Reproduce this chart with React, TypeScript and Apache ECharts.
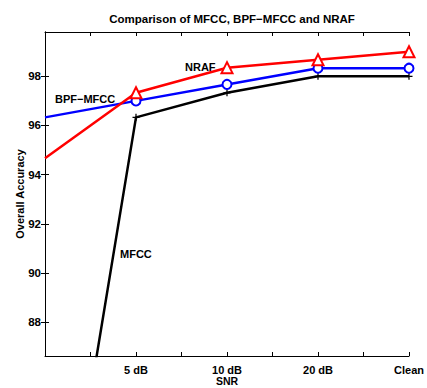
import React, { useEffect, useRef } from "react";
import * as echarts from "echarts";

const snrLabels = ["0 dB", "5 dB", "10 dB", "20 dB", "Clean"];
const mfcc = [73.9, 96.33, 97.33, 98.0, 98.0];
const bpfMfcc = [96.33, 97.0, 97.67, 98.33, 98.33];
const nraf = [94.67, 97.33, 98.35, 98.67, 99.0];
const yTicks = [88, 90, 92, 94, 96, 98];

const FONT = '"Liberation Sans", Arial, Helvetica, sans-serif';

// first point (0 dB) lies on the axis edge; it has no visible marker in the reference
const toPoints = (vals: number[]) =>
  vals.map((v, i) => (i === 0 ? { value: [i, v], symbol: "none" } : { value: [i, v] }));

const plusPath =
  "path://M-0.18,-1H0.18V-0.18H1V0.18H0.18V1H-0.18V0.18H-1V-0.18H-0.18Z";

export default function App() {
  const ref = useRef<HTMLDivElement>(null);
  useEffect(() => {
    if (!ref.current) return;
    const chart = echarts.init(ref.current, undefined, { renderer: "svg" });
    const labelFor = (v: number) => {
      if (Math.abs(v - Math.round(v)) > 1e-6) return "";
      const i = Math.round(v);
      return i >= 1 && i < snrLabels.length ? snrLabels[i] : "";
    };
    const xBase = {
      type: "value",
      min: 0,
      max: snrLabels.length - 1,
      interval: 0.5,
      axisLine: { lineStyle: { color: "#000", width: 1 } },
      axisTick: { inside: true, length: 4, lineStyle: { color: "#000" } },
      splitLine: { show: false },
    };
    const yBase = {
      type: "value",
      min: 86.63,
      max: 99.8,
      axisLine: { show: true, lineStyle: { color: "#000", width: 1 } },
      axisTick: {
        show: true,
        inside: true,
        length: 4,
        customValues: yTicks,
        lineStyle: { color: "#000" },
      },
      splitLine: { show: false },
    };
    const textStyle = {
      fontFamily: FONT,
      fontWeight: "bold",
      fontSize: 11,
      fill: "#000",
    };
    chart.setOption({
      animation: false,
      backgroundColor: "#fff",
      title: {
        text: "Comparison of MFCC, BPF\u2212MFCC and NRAF",
        left: 227,
        top: 8,
        textAlign: "center",
        textStyle: {
          fontFamily: FONT,
          fontWeight: "bold",
          fontSize: 11.5,
          color: "#000",
        },
      },
      grid: {
        left: 45,
        right: 18,
        top: 32,
        bottom: 32,
        containLabel: false,
        outerBoundsMode: "none",
      },
      xAxis: [
        {
          ...xBase,
          position: "bottom",
          name: "SNR",
          nameLocation: "middle",
          nameGap: 19,
          nameMoveOverlap: false,
          nameTextStyle: {
            fontFamily: FONT,
            fontWeight: "bold",
            fontSize: 10.5,
            color: "#000",
          },
          axisLabel: {
            formatter: labelFor,
            margin: 8,
            fontFamily: FONT,
            fontWeight: "bold",
            fontSize: 11,
            color: "#000",
            showMinLabel: true,
            showMaxLabel: true,
          },
        },
        { ...xBase, position: "top", axisLabel: { show: false } },
      ],
      yAxis: [
        {
          ...yBase,
          position: "left",
          name: "Overall Accuracy",
          nameLocation: "middle",
          nameGap: 20,
          nameMoveOverlap: false,
          nameTextStyle: {
            fontFamily: FONT,
            fontWeight: "bold",
            fontSize: 11,
            color: "#000",
          },
          axisLabel: {
            customValues: yTicks,
            margin: 4,
            fontFamily: FONT,
            fontWeight: "bold",
            fontSize: 11.5,
            color: "#000",
          },
        },
        { ...yBase, position: "right", axisLabel: { show: false } },
      ],
      series: [
        {
          name: "MFCC",
          type: "line",
          data: toPoints(mfcc),
          clip: true,
          symbol: plusPath,
          symbolSize: 7,
          showAllSymbol: true,
          lineStyle: { color: "#000", width: 2.5 },
          itemStyle: { color: "#000" },
        },
        {
          name: "BPF-MFCC",
          type: "line",
          data: toPoints(bpfMfcc),
          clip: true,
          symbol: "emptyCircle",
          symbolSize: 9,
          showAllSymbol: true,
          lineStyle: { color: "#0000ff", width: 2.5 },
          itemStyle: { color: "#0000ff", borderWidth: 2, borderColor: "#0000ff" },
        },
        {
          name: "NRAF",
          type: "line",
          data: toPoints(nraf),
          clip: true,
          symbol: "emptyTriangle",
          symbolSize: 11,
          showAllSymbol: true,
          lineStyle: { color: "#ff0000", width: 2.5 },
          itemStyle: { color: "#ff0000", borderWidth: 2, borderColor: "#ff0000" },
        },
      ],
      graphic: [
        {
          type: "text",
          x: 185,
          y: 67,
          style: { ...textStyle, text: "NRAF", verticalAlign: "middle" },
        },
        {
          type: "text",
          x: 55,
          y: 99,
          style: { ...textStyle, text: "BPF\u2212MFCC", verticalAlign: "middle" },
        },
        {
          type: "text",
          x: 120,
          y: 254,
          style: { ...textStyle, text: "MFCC", verticalAlign: "middle" },
        },
      ],
    });
    return () => chart.dispose();
  }, []);
  return (
    <div
      ref={ref}
      style={{ position: "fixed", left: 0, top: 0, width: 427, height: 388 }}
    />
  );
}
